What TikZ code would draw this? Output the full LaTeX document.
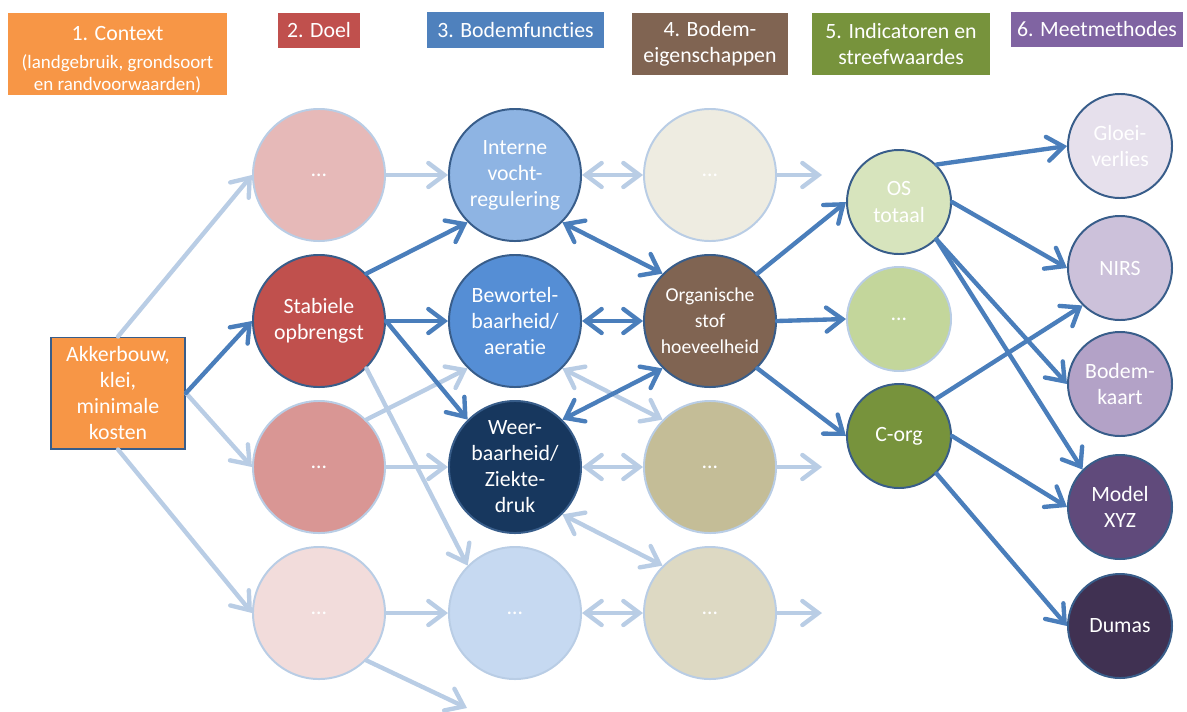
\documentclass[tikz,border=0pt]{standalone}
\usepackage{fontspec}
\setmainfont{Carlito}[Ligatures=NoCommon]
\usepackage{tikz}
\usetikzlibrary{arrows.meta, positioning}

\definecolor{ctxorange}{HTML}{F79646}
\definecolor{doelred}{HTML}{C0504D}
\definecolor{funcblue}{HTML}{4F81BD}
\definecolor{eigbrown}{HTML}{806452}
\definecolor{indgreen}{HTML}{77933C}
\definecolor{meetpurple}{HTML}{8064A2}
\definecolor{randdonker}{HTML}{385D8A}
\definecolor{randlicht}{HTML}{B9CDE5}
\definecolor{pijlkleur}{HTML}{4A7EBB}
\definecolor{pijllichtkleur}{HTML}{B9CDE5}
% vulkleuren
\definecolor{doelA}{HTML}{E6B9B8}
\definecolor{doelC}{HTML}{D99694}
\definecolor{doelD}{HTML}{F2DCDB}
\definecolor{funcA}{HTML}{8EB4E3}
\definecolor{funcB}{HTML}{558ED5}
\definecolor{funcC}{HTML}{17375E}
\definecolor{funcD}{HTML}{C6D9F1}
\definecolor{eigA}{HTML}{EEECE1}
\definecolor{eigC}{HTML}{C4BD97}
\definecolor{eigD}{HTML}{DDD9C3}
\definecolor{indA}{HTML}{D7E4BD}
\definecolor{indB}{HTML}{C3D69B}
\definecolor{meetA}{HTML}{E6E0EC}
\definecolor{meetB}{HTML}{CCC1DA}
\definecolor{meetC}{HTML}{B3A2C7}
\definecolor{meetD}{HTML}{604A7B}
\definecolor{meetE}{HTML}{403152}

\begin{document}
\begin{tikzpicture}[x=0.025cm, y=-0.025cm,
    font=\fontsize{15.5}{18.5}\selectfont,
    >={Straight Barb[length=4mm,width=6mm,line cap=round]},
    kop/.style={fill=#1, text=white, align=center, inner sep=0pt},
    bol/.style={circle, minimum size=3.3cm, inner sep=0pt, align=center,
        text=white, fill=#1, draw=randdonker, line width=1.4pt},
    bollicht/.style={bol=#1, draw=randlicht},
    klein/.style={bol=#1, minimum size=2.6cm},
    kleinlicht/.style={klein=#1, draw=randlicht},
    pijl/.style={draw=pijlkleur, line width=3.1pt, line cap=round},
    licht/.style={draw=pijllichtkleur, line width=3.1pt, line cap=round}]
    \useasboundingbox (0,0) rectangle (1187,711);

    % kopjes
    \node[kop=ctxorange, minimum width=5.475cm, minimum height=2.05cm,
        font=\fontsize{13.5}{15.5}\selectfont] (kop1) at (117.5,54)
        {\rule{0pt}{18pt}{\fontsize{15.5}{18.5}\selectfont 1. Context}\\[5pt](landgebruik, grondsoort\\en randvoorwaarden)};
    \node[kop=doelred, minimum width=2.05cm, minimum height=0.875cm] (kop2) at (319,30.5) {2. Doel};
    \node[kop=funcblue, minimum width=4.425cm, minimum height=0.9cm] (kop3) at (515.5,30) {3. Bodemfuncties};
    \node[kop=eigbrown, minimum width=3.875cm, minimum height=1.55cm] (kop4) at (710,44) {4. Bodem-\\eigenschappen};
    \node[kop=indgreen, minimum width=4.425cm, minimum height=1.55cm] (kop5) at (901,44) {5. Indicatoren en\\streefwaardes};
    \node[kop=meetpurple, minimum width=4.3cm, minimum height=0.875cm] (kop6) at (1097,29.5) {6. Meetmethodes};

    % context
    \node[draw=randdonker, line width=1.4pt, fill=ctxorange, text=white, align=center,
        minimum width=3.35cm, minimum height=2.775cm, inner sep=0pt] (akker) at (118,393)
        {Akkerbouw,\\klei,\\minimale\\kosten};

    % doel
    \node[bollicht=doelA] (d1) at (319,175) {…};
    \node[bol=doelred] (d2) at (319,321) {Stabiele\\opbrengst};
    \node[bollicht=doelC] (d3) at (319,467) {…};
    \node[bollicht=doelD] (d4) at (319,613) {…};

    % bodemfuncties
    \node[bol=funcA] (f1) at (515,175) {Interne\\vocht-\\regulering};
    \node[bol=funcB] (f2) at (515,321) {Bewortel-\\baarheid/\\aeratie};
    \node[bol=funcC] (f3) at (515,467) {Weer-\\baarheid/\\Ziekte-\\druk};
    \node[bollicht=funcD] (f4) at (515,613) {…};

    % bodemeigenschappen
    \node[bollicht=eigA] (e1) at (710,175) {…};
    \node[bol=eigbrown, font=\fontsize{14}{18.5}\selectfont] (e2) at (710,321) {Organische\\stof\\hoeveelheid};
    \node[bollicht=eigC] (e3) at (710,467) {…};
    \node[bollicht=eigD] (e4) at (710,613) {…};

    % indicatoren
    \node[klein=indA] (i1) at (899,202) {OS\\totaal};
    \node[kleinlicht=indB] (i2) at (899,319) {…};
    \node[klein=indgreen] (i3) at (899,436) {C-org};

    % meetmethodes
    \node[klein=meetA] (m1) at (1120,146) {Gloei-\\verlies};
    \node[klein=meetB] (m2) at (1120,268) {NIRS};
    \node[klein=meetC] (m3) at (1120,384) {Bodem-\\kaart};
    \node[klein=meetD] (m4) at (1120,507) {Model\\XYZ};
    \node[klein=meetE] (m5) at (1120,626) {Dumas};

    % losse eindpunten
    \coordinate (x5) at (467,708);
    \coordinate (x1) at (822,175);
    \coordinate (x3) at (822,467);
    \coordinate (x4) at (822,613);

    % lichte pijlen
    \draw[licht,->] (akker.north) -- (d1.west);
    \draw[licht,->] (akker.east) -- (d3.west);
    \draw[licht,->] (akker.south) -- (d4.west);
    \draw[licht,->] (d1.east) -- (f1.west);
    \draw[licht,->] (d2.315) -- (f4.135);
    \draw[licht,->] (d3.45) -- (f2.225);
    \draw[licht,->] (d3.east) -- (f3.west);
    \draw[licht,->] (d4.east) -- (f4.west);
    \draw[licht,->] (d4.315) -- (x5);
    \draw[licht,<->] (f1.east) -- (e1.west);
    \draw[licht,<->] (f2.315) -- (e3.135);
    \draw[licht,<->] (f3.east) -- (e3.west);
    \draw[licht,<->] (f3.315) -- (e4.135);
    \draw[licht,<->] (f4.east) -- (e4.west);
    \draw[licht,->] (e1.east) -- (x1);
    \draw[licht,->] (e3.east) -- (x3);
    \draw[licht,->] (e4.east) -- (x4);

    % donkere pijlen
    \draw[pijl,->] (akker.east) -- (d2.west);
    \draw[pijl,->] (d2.45) -- (f1.225);
    \draw[pijl,->] (d2.east) -- (f2.west);
    \draw[pijl,->] (d2.east) -- (f3.135);
    \draw[pijl,<->] (f1.315) -- (e2.135);
    \draw[pijl,<->] (f2.east) -- (e2.west);
    \draw[pijl,<->] (f3.45) -- (e2.225);
    \draw[pijl,->] (e2.45) -- (i1.west);
    \draw[pijl,->] (e2.east) -- (i2.west);
    \draw[pijl,->] (e2.315) -- (i3.west);
    \draw[pijl,->] (i1.45) -- (m1.west);
    \draw[pijl,->] (i1.east) -- (m2.west);
    \draw[pijl,->] (i1.315) -- (m3.west);
    \draw[pijl,->] (i1.315) -- (m4.135);
    \draw[pijl,->] (i3.45) -- (m2.225);
    \draw[pijl,->] (i3.east) -- (m4.west);
    \draw[pijl,->] (i3.315) -- (m5.west);
\end{tikzpicture}
\end{document}
